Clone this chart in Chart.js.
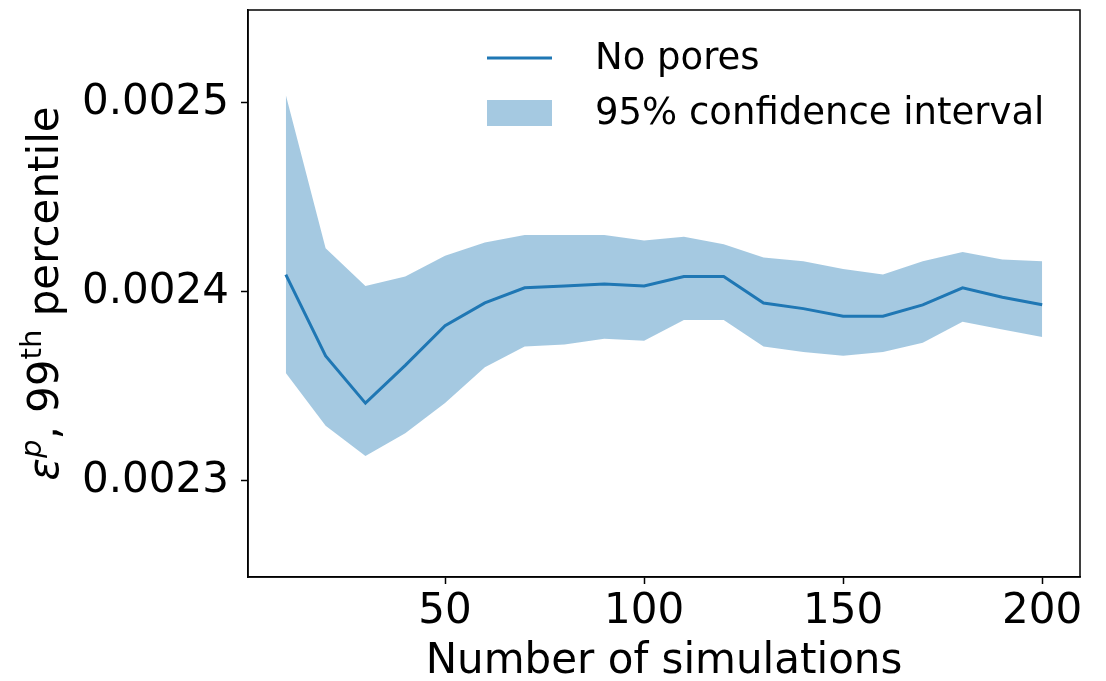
<!DOCTYPE html>
<html>
<head>
<meta charset="utf-8">
<script src="https://cdn.jsdelivr.net/npm/chart.js@4"></script>
<style>
  html, body { margin: 0; padding: 0; background: #fff; }
  #wrap { width: 1106px; height: 681px; }
</style>
</head>
<body>
<div id="wrap"><canvas id="grafica"></canvas></div>
<script>
// number of simulations
const sims = [10, 20, 30, 40, 50, 60, 70, 80, 90, 100, 110, 120, 130, 140, 150, 160, 170, 180, 190, 200];
// 99th percentile of plastic strain, no pores
const noPores = [0.002409, 0.002366, 0.002341, 0.002361, 0.002382, 0.002394, 0.002402, 0.002403, 0.002404, 0.002403,
                 0.002408, 0.002408, 0.002394, 0.002391, 0.002387, 0.002387, 0.002393, 0.002402, 0.002397, 0.002393];
// 95% confidence interval bounds
const ciUpper = [0.002504, 0.002423, 0.002403, 0.002408, 0.002419, 0.002426, 0.002430, 0.002430, 0.002430, 0.002427,
                 0.002429, 0.002425, 0.002418, 0.002416, 0.002412, 0.002409, 0.002416, 0.002421, 0.002417, 0.002416];
const ciLower = [0.002357, 0.002329, 0.002313, 0.002325, 0.002341, 0.002360, 0.002371, 0.002372, 0.002375, 0.002374,
                 0.002385, 0.002385, 0.002371, 0.002368, 0.002366, 0.002368, 0.002373, 0.002384, 0.002380, 0.002376];
const xTicks = [50, 100, 150, 200];
const yTicks = [0.0023, 0.0024, 0.0025];

const azul = "#1f77b4";
const banda = "rgba(31,119,180,0.4)";
const fuente = "'DejaVu Sans', sans-serif";

const pts = (arr) => arr.map((v, i) => ({ x: sims[i], y: v }));

// marco completo, título del eje y con superíndices y leyenda dentro del área
const extras = {
  id: "extras",
  afterDraw(chart) {
    const { ctx, chartArea: a } = chart;
    ctx.save();
    ctx.strokeStyle = "#000";
    ctx.lineWidth = 1.5;
    ctx.strokeRect(a.left, a.top, a.right - a.left, a.bottom - a.top);

    // título eje y: ε^p, 99^th percentile
    const big = "42px " + fuente, small = "29px " + fuente;
    const partes = [
      { t: "\u03B5", f: "italic " + big, dy: 0 },
      { t: "p", f: "italic " + small, dy: -17 },
      { t: ", 99", f: big, dy: 0 },
      { t: "th", f: small, dy: -17 },
      { t: " percentile", f: big, dy: 0 },
    ];
    let total = 0;
    partes.forEach(p => { ctx.font = p.f; p.w = ctx.measureText(p.t).width; total += p.w; });
    ctx.translate(58, (a.top + a.bottom) / 2);
    ctx.rotate(-Math.PI / 2);
    ctx.fillStyle = "#000";
    ctx.textBaseline = "alphabetic";
    let x = -total / 2;
    partes.forEach(p => { ctx.font = p.f; ctx.fillText(p.t, x, p.dy); x += p.w; });
    ctx.restore();

    // leyenda
    ctx.save();
    ctx.font = "37px " + fuente;
    ctx.fillStyle = "#000";
    ctx.textBaseline = "middle";
    ctx.strokeStyle = azul;
    ctx.lineWidth = 3;
    ctx.beginPath();
    ctx.moveTo(487, 58);
    ctx.lineTo(552, 58);
    ctx.stroke();
    ctx.fillText("No pores", 595, 59);
    ctx.fillStyle = banda;
    ctx.fillRect(487, 100, 65, 26);
    ctx.fillStyle = "#000";
    ctx.fillText("95% confidence interval", 595, 114);
    ctx.restore();
  }
};

new Chart(document.getElementById("grafica"), {
  type: "line",
  data: {
    datasets: [
      {
        label: "95% confidence interval",
        data: pts(ciUpper),
        borderWidth: 0,
        pointRadius: 0,
        backgroundColor: banda,
        fill: "+1",
        tension: 0,
        order: 2,
      },
      {
        label: "lower",
        data: pts(ciLower),
        borderWidth: 0,
        pointRadius: 0,
        fill: false,
        order: 2,
      },
      {
        label: "No pores",
        data: pts(noPores),
        borderColor: azul,
        borderWidth: 3,
        pointRadius: 0,
        fill: false,
        tension: 0,
        order: 1,
      },
    ],
  },
  options: {
    responsive: true,
    maintainAspectRatio: false,
    animation: false,
    layout: { padding: { left: 0, right: 26, top: 10, bottom: 0 } },
    plugins: { legend: { display: false }, tooltip: { enabled: false } },
    scales: {
      x: {
        type: "linear",
        min: 0.5,
        max: 209.5,
        afterBuildTicks: (s) => { s.ticks = xTicks.map(v => ({ value: v })); },
        afterFit: (s) => { s.height = 104; s.paddingLeft = 0; s.paddingRight = 0; },
        grid: { drawOnChartArea: false, drawTicks: true, tickLength: 7, tickWidth: 1.5, color: "#000" },
        border: { display: true, color: "#000", width: 1.5 },
        ticks: { color: "#000", font: { family: fuente, size: 42 }, padding: 3, maxRotation: 0 },
        title: { display: true, text: "Number of simulations", color: "#000", font: { family: fuente, size: 42 }, padding: { top: 0, bottom: -6 } },
      },
      y: {
        min: 0.002249,
        max: 0.002549,
        afterBuildTicks: (s) => { s.ticks = yTicks.map(v => ({ value: v })); },
        afterFit: (s) => { s.width = 248; s.paddingTop = 0; s.paddingBottom = 0; },
        grid: { drawOnChartArea: false, drawTicks: true, tickLength: 7, tickWidth: 1.5, color: "#000" },
        border: { display: true, color: "#000", width: 1.5 },
        ticks: { color: "#000", font: { family: fuente, size: 42 }, padding: 12, callback: (v) => v.toFixed(4) },
      },
    },
  },
  plugins: [extras],
});
</script>
</body>
</html>
